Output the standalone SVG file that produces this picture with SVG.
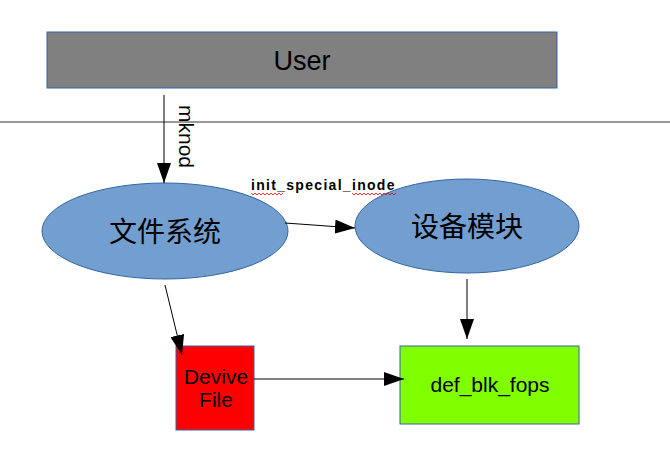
<svg xmlns="http://www.w3.org/2000/svg" width="670" height="455" viewBox="0 0 670 455">
<style>
.box{stroke:#3465a4;stroke-width:1}
.ell{fill:#729fcf;stroke:#3465a4;stroke-width:1}
.t{font-family:"Liberation Sans",Arial,sans-serif;fill:#000}
.m{text-anchor:middle}
.cjk{font-family:"Liberation Sans","Noto Sans CJK SC",sans-serif;fill:#000;text-anchor:middle}
.c{stroke:#000;stroke-width:1;fill:none}
.w{stroke:#e00;stroke-width:0.8;fill:none}
</style>
<defs>
<marker id="ah" viewBox="0 0 20 14" refX="20" refY="7" markerWidth="20" markerHeight="14" markerUnits="userSpaceOnUse" orient="auto">
<path d="M0,0 L20,7 L0,14 Z" fill="#000"/>
</marker>
</defs>
<rect width="670" height="455" fill="#fff"/>
<line x1="0" y1="122" x2="670" y2="122" stroke="#333" stroke-width="1"/>
<g id="user">
<rect class="box" x="47" y="32" width="510" height="56" fill="#808080"/>
<text class="t m" x="302" y="70" font-size="27">User</text>
</g>
<g id="fs">
<ellipse class="ell" cx="165" cy="231" rx="123" ry="48"/>
<text class="cjk" x="165" y="242" font-size="28">文件系统</text>
</g>
<g id="dev">
<ellipse class="ell" cx="467" cy="226" rx="112" ry="47"/>
<text class="cjk" x="467" y="237" font-size="28">设备模块</text>
</g>
<g id="devfile">
<rect class="box" x="176" y="346" width="78" height="84" fill="#ff0000"/>
<text class="t m" x="216" y="384" font-size="21">Devive</text>
<text class="t m" x="216" y="407" font-size="21">File</text>
</g>
<g id="fops">
<rect class="box" x="400" y="346" width="179" height="78" fill="#80ff00"/>
<text class="t m" x="490" y="392" font-size="21">def_blk_fops</text>
</g>
<g id="connectors">
<line class="c" x1="164" y1="95" x2="164" y2="183" marker-end="url(#ah)"/>
<text class="t" x="0" y="0" font-size="21" transform="translate(179,105) rotate(90)">mknod</text>
<line class="c" x1="285" y1="223" x2="355" y2="228" marker-end="url(#ah)"/>
<text class="t" x="251" y="190" font-size="14" font-weight="bold" letter-spacing="1.3">init_special_inode</text>
<path class="w" d="M251,193 l2,2 l2,-2 l2,2 l2,-2 l2,2 l2,-2 l2,2 l2,-2 l2,2 l2,-2 l2,2 l2,-2 l2,2 l2,-2 l2,2 l2,-2"/>
<path class="w" d="M352,193 l2,2 l2,-2 l2,2 l2,-2 l2,2 l2,-2 l2,2 l2,-2 l2,2 l2,-2 l2,2 l2,-2 l2,2 l2,-2 l2,2 l2,-2 l2,2 l2,-2 l2,2 l2,-2 l2,2 l2,-2"/>
<line class="c" x1="165" y1="285" x2="182" y2="355" marker-end="url(#ah)"/>
<line class="c" x1="254" y1="379" x2="404" y2="379" marker-end="url(#ah)"/>
<line class="c" x1="467" y1="279" x2="467" y2="339" marker-end="url(#ah)"/>
</g>
</svg>
